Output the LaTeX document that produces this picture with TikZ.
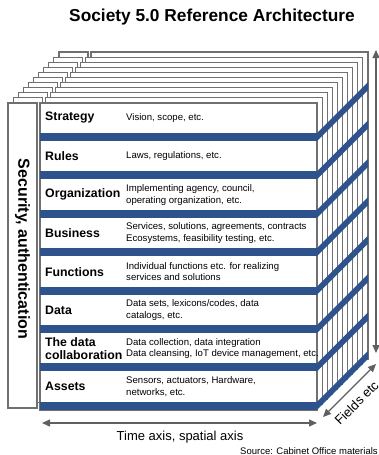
\documentclass[tikz,border=0pt]{standalone}
\usepackage{fontspec}
\setmainfont{Liberation Sans}
\usetikzlibrary{arrows.meta}

\definecolor{barblue}{RGB}{46,82,140}
\definecolor{framegray}{RGB}{112,112,112}
\definecolor{axisgray}{RGB}{96,96,96}

\tikzset{
  layer/.style={draw=framegray, line width=1.1pt, fill=white},
  bar/.style={fill=barblue},
  rowlabel/.style={anchor=west, inner sep=0pt, align=left, font=\fontsize{12.3}{13}\selectfont\bfseries},
  rowtext/.style={anchor=west, inner sep=0pt, align=left, font=\fontsize{9.6}{11.5}\selectfont},
  axis/.style={draw=axisgray, line width=1.2pt, {Triangle[length=8pt,width=7pt]}-{Triangle[length=8pt,width=7pt]}},
}

\begin{document}
\begin{tikzpicture}[x=1pt, y=-1pt]
            \useasboundingbox (0,0) rectangle (379,455);
            \node[font=\fontsize{17.3}{20}\selectfont\bfseries] (title) at (212,17) {Society 5.0 Reference Architecture};
            % layers behind, back to front
            \foreach \k in {10,...,1} {
              \draw[layer] (8+5.1*\k, 103-5.1*\k) rectangle (37+5.1*\k, 408-5.1*\k);
              \draw[layer] (40+5.1*\k, 103-5.1*\k) rectangle (317+5.1*\k, 410-5.1*\k);
            }
            \draw[layer] (8,103) rectangle (37,408);
            \draw[layer] (40,103) rectangle (317,410);
            \foreach \i in {0,...,7} {
              \pgfmathsetmacro\t{133+38.4*\i}
              \fill[bar] (40,\t) rectangle (317,\t+8);
              \fill[bar] (317,\t) -- (368,\t-51) -- (368,\t-43) -- (317,\t+8) -- cycle;
            }
            \node[rotate=-90, font=\fontsize{16}{18}\selectfont\bfseries] (security) at (22.5,249) {Security, authentication};
            \node[rowlabel] (strategy) at (45,118) {Strategy};
            \node[rowtext] (strategytext) at (126,118) {Vision, scope, etc.};
            \node[rowlabel] (rules) at (45,156.4) {Rules};
            \node[rowtext] (rulestext) at (126,156.4) {Laws, regulations, etc.};
            \node[rowlabel] (organization) at (45,194.8) {Organization};
            \node[rowtext] (organizationtext) at (126,194.8) {Implementing agency, council,\\operating organization, etc.};
            \node[rowlabel] (business) at (45,233.2) {Business};
            \node[rowtext] (businesstext) at (126,233.2) {Services, solutions, agreements, contracts\\Ecosystems, feasibility testing, etc.};
            \node[rowlabel] (functions) at (45,271.6) {Functions};
            \node[rowtext] (functionstext) at (126,271.6) {Individual functions etc. for realizing\\services and solutions};
            \node[rowlabel] (data) at (45,310) {Data};
            \node[rowtext] (datatext) at (126,310) {Data sets, lexicons/codes, data\\catalogs, etc.};
            \node[rowlabel] (collab) at (45,348.4) {The data\\collaboration};
            \node[rowtext] (collabtext) at (126,348.4) {Data collection, data integration\\Data cleansing, IoT device management, etc.};
            \node[rowlabel] (assets) at (45,386.8) {Assets};
            \node[rowtext] (assetstext) at (126,386.8) {Sensors, actuators, Hardware,\\networks, etc.};
            % axes
            \coordinate (timeL) at (42,423);
            \coordinate (timeR) at (317,423);
            \draw[axis] (timeL) -- (timeR);
            \node[font=\fontsize{13}{15}\selectfont] (timelabel) at (180,437) {Time axis, spatial axis};
            \coordinate (fieldA) at (323,417);
            \coordinate (fieldB) at (376,364);
            \draw[axis] (fieldA) -- (fieldB);
            \node[rotate=45, anchor=base west, inner sep=0pt, font=\fontsize{13}{15}\selectfont] (fieldlabel) at (340,426) {Fields etc.};
            \coordinate (layerB) at (376,353);
            \coordinate (layerT) at (376,50);
            \draw[axis] (layerB) -- (layerT);
            \node[anchor=base west, inner sep=0pt, font=\fontsize{9.5}{11}\selectfont] (source) at (240,454) {Source: Cabinet Office materials};
        \end{tikzpicture}
\end{document}
